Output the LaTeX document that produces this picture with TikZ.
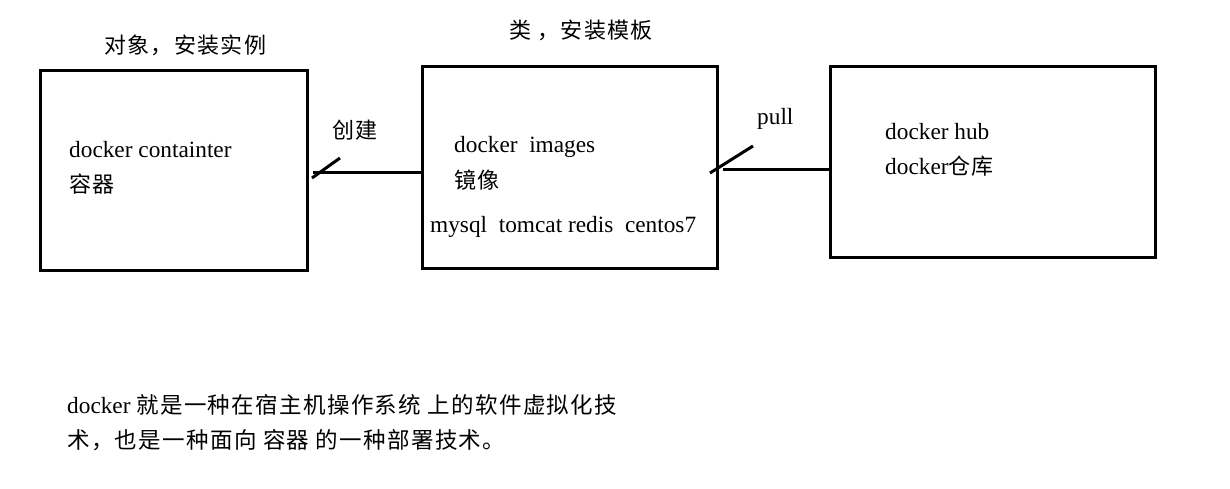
\documentclass[tikz,border=0pt]{standalone}
\usepackage{fontspec}
\setmainfont{Liberation Serif}
\newfontfamily\cjk[LetterSpace=6]{Noto Sans CJK SC}
\usetikzlibrary{positioning}

\begin{document}
\begin{tikzpicture}[x=1pt,y=-1pt,font=\fontsize{23.3}{27}\selectfont,
	box/.style={draw,line width=3pt,inner sep=0pt},
	txt/.style={inner sep=0pt,anchor=base west},
	cn/.style={inner sep=0pt,anchor=west,font=\fontsize{22}{26}\selectfont\cjk},
	conn/.style={line width=3pt}]
	\useasboundingbox (0,0) rectangle (1230,488);
	% boxes
	\node (container) at (173.5,170) [box,minimum width=267pt,minimum height=200pt] {};
	\node (images) at (569.5,167) [box,minimum width=295pt,minimum height=202pt] {};
	\node (hub) at (992.5,161.5) [box,minimum width=325pt,minimum height=191pt] {};
	% titles
	\node (objtitle) at (104,45) [cn] {对象，安装实例};
	\node (classtitle) at (509,30) [cn] {类 ，安装模板};
	% box texts
	\node (contname) at (69,157) [txt] {docker containter};
	\node (contcn) at (69,184) [cn] {容器};
	\node (imgname) at (454,152) [txt] {docker\ \ images};
	\node (imgcn) at (454,180) [cn] {镜像};
	\node (imglist) at (430,232) [txt] {mysql\ \ tomcat redis\ \ centos7};
	\node (hubname) at (885,139) [txt] {docker hub};
	\node (hubcn) at (885,174) [txt] {docker{\fontsize{22}{26}\selectfont\cjk 仓库}};
	% connectors
	\coordinate (createend) at (313,172);
	\coordinate (pullend) at (723,169);
	\draw[conn] (images.west |- createend) -- (createend);
	\draw[conn] (312,178) -- (340,158);
	\node (create) at (332,130) [cn] {创建};
	\draw[conn] (hub.west |- pullend) -- (pullend);
	\draw[conn] (710,173) -- (753,146);
	\node (pull) at (757,124) [txt] {pull};
	% note
	\node (note1) at (67,413) [txt] {docker {\fontsize{22.5}{27}\selectfont\cjk 就是一种在宿主机操作系统 上的软件虚拟化技}};
	\node (note2) at (67,440) [cn,font=\fontsize{22.5}{27}\selectfont\cjk] {术，也是一种面向 容器 的一种部署技术。};
\end{tikzpicture}
\end{document}
